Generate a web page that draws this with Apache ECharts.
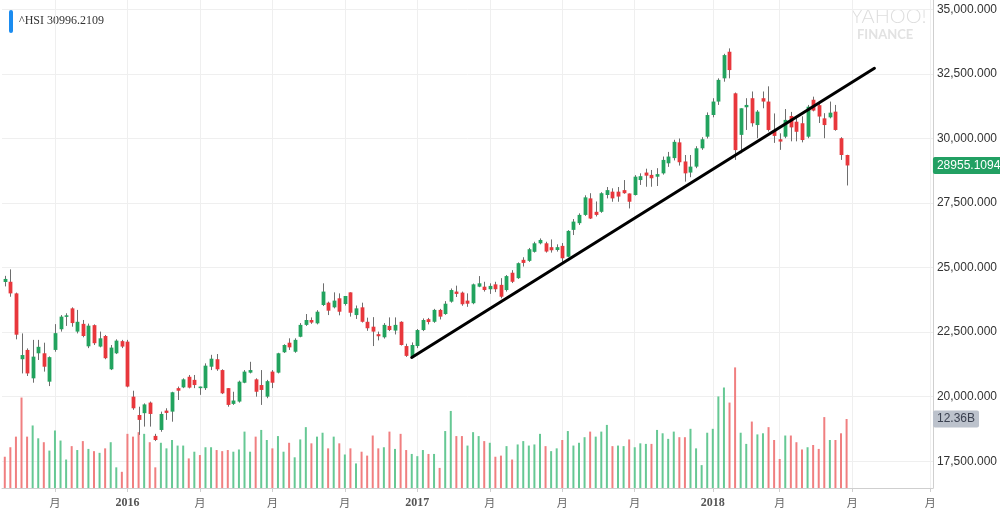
<!DOCTYPE html>
<html>
<head>
<meta charset="utf-8">
<script src="https://cdn.jsdelivr.net/npm/echarts@6/dist/echarts.min.js"></script>
<style>
html,body{margin:0;padding:0;background:#ffffff;}
#chart{width:1000px;height:518px;}
</style>
</head>
<body>
<div id="chart"></div>
<script>
// ---------------- DATA ----------------
const startDate = '2015-08-07';      // first weekly bar
const categoryCount = 167;           // weeks on the axis (incl. empty space at right)
const prevClose = 24636;             // close of the week before the first bar

const opens = [
24440,24450,24000,21450,21810,20710,21680,21680,20580,21810,
22610,23090,23420,22520,22820,21950,22770,21940,22350,21060,
21680,22150,22130,20000,19290,19360,19770,18480,18710,19460,
19420,20330,20360,20770,20650,20330,20330,21160,21450,21030,
20330,19720,19810,20540,20930,20670,20450,20000,20970,20930,
21720,22090,21740,22320,22780,22970,22840,23550,23640,23460,
23810,23590,24040,23160,23460,22900,22710,22420,22300,22740,
22560,22900,21960,21550,21960,22580,23000,22900,23360,23200,
23680,24070,24030,23720,23620,24260,24260,24160,24350,24330,
24130,24800,24590,25300,25260,25610,25940,25940,25790,25680,
25840,25420,26460,26720,27040,27680,27160,27160,27810,27940,
27940,28000,27870,27810,28390,28680,28590,28520,28650,29040,
29240,29850,29110,28680,28910,29620,30070,30910,31430,32330,
33360,31750,30140,31210,31560,30520,31560,31430,30300,29970,
30070,30870,30650,30590,30070,31500,31290,30780,30820,31040,
30010,29360];

const closes = [
24560,24000,22400,21612,20900,21550,21930,21160,21530,22460,
23100,23150,22850,22900,22350,22750,22070,22260,21490,21900,
22170,21940,20390,19550,19100,19700,19330,18320,19330,19370,
20170,20230,20670,20350,20450,20390,21200,21470,21060,20130,
19680,19850,20580,20970,21030,20190,20260,20600,20540,21680,
22000,21910,22200,22780,22970,22870,23290,24070,23330,23720,
23290,23900,23250,23420,22900,22650,22520,22340,22780,22580,
22780,22000,21580,22000,22580,22970,22890,23360,23100,23600,
24130,23980,23580,23600,24350,24390,24130,24290,24160,23870,
24670,24450,25170,25180,25710,25940,26070,25620,25670,25790,
25360,26420,26780,27040,27720,26900,27040,27880,28000,27680,
27750,27880,27550,28520,28540,28560,28460,28620,29170,29300,
29870,29080,28650,28910,29620,29970,30910,31430,32270,33230,
32650,29550,31170,31300,30590,31040,31430,30330,30100,29880,
30720,30430,30260,29940,31230,31080,30850,30520,31000,30330,
29360,28955.1094];

const highs = [
24680,24930,24030,22450,21870,22200,22200,22090,21560,22810,
23160,23230,23460,23360,22970,22830,22800,22520,22390,22000,
22220,22200,22200,20230,19610,19740,19810,18560,19420,19550,
20190,20390,20710,20840,20840,20390,21290,21620,21650,21060,
20330,20190,20620,21030,21350,20710,21030,20650,21030,21700,
22030,22260,22260,22850,23200,23070,23350,24390,23680,24040,
24000,23900,24040,23530,23640,23060,23080,22520,22850,23070,
23070,22920,22050,22100,22620,23030,23050,23400,23400,23700,
24190,24300,24070,24000,24380,24670,24450,24390,24450,24590,
24710,24900,25200,25400,25760,26000,26130,26000,26090,25900,
25950,26450,26880,27100,27800,27880,27560,27920,28120,28070,
28120,28390,27870,28580,28650,28830,28780,28850,29300,29480,
29950,30000,29360,29360,29700,30050,31010,31560,32330,33280,
33490,31780,31170,31560,31820,31100,31820,32020,30970,30200,
31140,31030,30800,30860,31300,31620,31350,30980,31430,31300,
30050,29370];

const lows = [
24270,23870,22220,20900,20800,20540,21420,20970,20410,21740,
22520,22740,22710,22450,22300,21880,22000,21910,21450,21030,
21650,21880,20360,19490,18520,18840,18840,18280,18640,19100,
19030,19870,20330,20320,20330,20070,20260,21030,21000,20100,
19610,19680,19770,20520,20900,20000,19680,19940,20330,20900,
21690,21810,21700,22300,22740,22820,22800,23510,23160,23420,
23150,23530,23100,23010,22870,22550,21960,22180,22250,22540,
22410,21980,21540,21500,21880,22540,22800,22860,22990,23170,
23640,23860,23520,23480,23580,24240,24070,23980,24050,23810,
24070,24400,24560,25040,25220,25580,25900,25580,25580,25620,
25170,25400,26260,26650,27000,26880,26980,27120,27680,27550,
27550,27860,27290,27790,28200,28130,28130,28160,28600,28900,
29150,28950,28330,28500,28850,29560,30000,30820,31300,32200,
32330,29170,29430,30330,30460,30010,31170,30270,29830,29560,
30010,29890,29890,29850,30010,31050,30600,30010,30780,30300,
29170,28180];

// weekly turnover, billions
const volumes = [
5.6,7.3,9.2,16.2,9.2,11.2,8.9,8.2,6.7,10.3,
8.5,5.1,7.5,6.8,8.4,7.0,6.6,6.3,7.1,8.2,
3.7,2.9,9.7,9.2,10.0,9.7,8.2,3.7,8.1,7.1,
8.6,7.6,7.6,5.3,6.5,5.9,7.3,7.3,6.8,6.6,
6.8,6.5,6.9,10.1,6.5,9.2,10.4,8.6,7.1,9.3,
6.5,8.1,5.5,8.7,10.9,8.0,9.2,9.9,7.1,9.2,
8.0,6.0,7.1,4.4,6.5,5.8,9.4,7.1,7.3,10.1,
7.0,9.7,6.8,6.1,5.7,6.8,6.1,6.1,3.6,10.2,
13.8,9.3,9.3,7.6,10.0,9.3,8.4,8.1,5.6,5.8,
7.5,5.1,7.8,8.4,7.6,7.8,9.7,7.5,6.6,7.1,
8.6,10.2,7.6,8.1,9.1,10.1,9.2,10.1,11.3,7.5,
7.6,7.5,8.7,7.3,8.0,7.9,7.9,10.4,9.8,8.8,
10.1,9.1,9.1,10.6,7.1,4.1,9.9,10.6,16.4,18.0,
15.3,21.6,9.9,7.9,11.9,9.6,9.8,10.9,8.6,5.2,
9.4,9.4,8.2,6.9,7.3,7.7,7.0,12.7,8.6,8.6,
9.8,12.36];

const lastPrice = 28955.1094;
const lastPriceText = '28955.1094';
const lastVolume = 12.36;
const lastVolumeText = '12.36B';
const headerText = '^HSI 30996.2109';

// hand-drawn trend line: [week index, price]
const trendStart = [73, 21520];
const trendEnd = [156, 32720];

// x-axis labels: week index and text
const xTickIndex = [9, 22, 35, 48, 61, 74, 87, 100, 113, 127, 139, 152, 166];
const xTickText  = ['月','2016','月','月','月','2017','月','月','月','2018','月','月','月'];

// price axis
const priceMin = 17500, priceMax = 35000, priceStep = 2500;

// ---------------- BUILD ----------------
const UP = '#22a35e', DOWN = '#e8373c';
const VOL_UP = '#66c894', VOL_DOWN = '#f07f80';

const categories = [];
{
  const d0 = new Date(startDate + 'T00:00:00Z');
  for (let i = 0; i < categoryCount; i++) {
    const d = new Date(d0.getTime() + i * 7 * 86400000);
    categories.push(d.toISOString().slice(0, 10));
  }
}
const candleData = opens.map((o, i) => [i, o, closes[i], lows[i], highs[i]]);
const volumeData = volumes.map((v, i) => {
  const pc = i === 0 ? prevClose : closes[i - 1];
  return { value: v, itemStyle: { color: closes[i] >= pc ? VOL_UP : VOL_DOWN } };
});
const tickSet = new Set(xTickIndex);
const tickLabelOf = {};
xTickIndex.forEach((k, j) => { tickLabelOf[k] = xTickText[j]; });

const GRID_LEFT = 2, GRID_W = 931;
const PRICE_TOP = 9.4, PRICE_H = 451.8;
const VOL_TOP = 0, VOL_H = 488;
// volume axis scaled so bars occupy the bottom band
const volMax = 87.4;

function renderCandle(params, api) {
  const i = api.value(0);
  const o = api.value(1), c = api.value(2), l = api.value(3), h = api.value(4);
  const pO = api.coord([i, o]), pC = api.coord([i, c]);
  const pL = api.coord([i, l]), pH = api.coord([i, h]);
  const band = api.size([1, 0])[0];
  const w = Math.max(2, band * 0.68);
  const cx = Math.round(pO[0]) + 0.5;
  const top = Math.min(pO[1], pC[1]);
  const bh = Math.max(1, Math.abs(pO[1] - pC[1]));
  return {
    type: 'group',
    children: [
      { type: 'line', shape: { x1: cx, y1: pH[1], x2: cx, y2: pL[1] },
        style: { stroke: '#6e6e6e', lineWidth: 1 } },
      { type: 'rect', shape: { x: cx - w / 2, y: top, width: w, height: bh },
        style: { fill: c >= o ? UP : DOWN } }
    ]
  };
}

const chart = echarts.init(document.getElementById('chart'), null, { renderer: 'canvas' });
chart.setOption({
  animation: false,
  backgroundColor: '#ffffff',
  grid: [
    { left: GRID_LEFT, width: GRID_W, top: PRICE_TOP, height: PRICE_H, containLabel: false },
    { left: GRID_LEFT, width: GRID_W, top: VOL_TOP, height: VOL_H, containLabel: false }
  ],
  xAxis: [
    { type: 'category', gridIndex: 0, data: categories, boundaryGap: true, show: false },
    {
      type: 'category', gridIndex: 1, data: categories, boundaryGap: true,
      axisLine: { show: true, lineStyle: { color: '#cfcfcf', width: 1 } },
      axisTick: { show: true, alignWithLabel: true, length: 4,
        interval: (idx) => tickSet.has(idx), lineStyle: { color: '#cfcfcf' } },
      splitLine: { show: true, alignWithLabel: true,
        interval: (idx) => tickSet.has(idx), lineStyle: { color: '#efefef', width: 1 } },
      axisLabel: {
        interval: (idx) => tickSet.has(idx),
        margin: 9,
        formatter: (val, idx) => {
          const t = tickLabelOf[idx] || '';
          return /^\d+$/.test(t) ? '{y|' + t + '}' : '{m|' + t + '}';
        },
        rich: {
          y: { fontFamily: 'Liberation Serif', fontWeight: 'bold', fontSize: 12, color: '#555555' },
          m: { fontFamily: 'Noto Sans CJK SC', fontSize: 11, color: '#666666' }
        }
      }
    }
  ],
  yAxis: [
    {
      type: 'value', gridIndex: 0, position: 'right',
      min: priceMin, max: priceMax, interval: priceStep,
      axisLine: { show: false }, axisTick: { show: false },
      splitLine: { show: true, lineStyle: { color: '#efefef', width: 1 } },
      axisLabel: {
        margin: 4, color: '#333333', fontSize: 12, fontFamily: 'Liberation Sans',
        formatter: (v) => v.toLocaleString('en-US', { minimumFractionDigits: 3, maximumFractionDigits: 3 })
      }
    },
    {
      type: 'value', gridIndex: 1, position: 'right', min: 0, max: volMax,
      axisLine: { show: true, lineStyle: { color: '#cfcfcf', width: 1 } },
      axisTick: { show: false }, axisLabel: { show: false }, splitLine: { show: false }
    }
  ],
  series: [
    {
      type: 'bar', name: 'volume', xAxisIndex: 1, yAxisIndex: 1,
      data: volumeData, barWidth: 2, silent: true, z: 2,
      markLine: {
        silent: true, symbol: 'none', animation: false,
        lineStyle: { width: 0, color: 'rgba(0,0,0,0)' },
        data: [{ yAxis: lastVolume }],
        label: {
          show: true, position: 'end', distance: 0, formatter: lastVolumeText,
          color: '#3b4150', fontSize: 12, fontFamily: 'Liberation Sans',
          backgroundColor: '#bcc2cc', padding: [3, 4, 2, 4], borderRadius: 2
        }
      }
    },
    {
      type: 'custom', name: 'HSI', xAxisIndex: 0, yAxisIndex: 0,
      data: candleData, encode: { x: 0, y: [1, 2, 3, 4] },
      renderItem: renderCandle, silent: true, z: 3
    },
    {
      type: 'line', name: 'trend', xAxisIndex: 0, yAxisIndex: 0,
      data: [trendStart, trendEnd], symbol: 'none', silent: true, z: 5,
      lineStyle: { color: '#000000', width: 3, cap: 'round' },
      markLine: {
        silent: true, symbol: 'none', animation: false,
        lineStyle: { width: 0, color: 'rgba(0,0,0,0)' },
        data: [{ yAxis: lastPrice }],
        label: {
          show: true, position: 'end', distance: 0, formatter: lastPriceText,
          color: '#ffffff', fontSize: 12, fontFamily: 'Liberation Sans',
          backgroundColor: '#22a063', padding: [3, 4, 2, 4], borderRadius: 2
        }
      }
    }
  ],
  graphic: [
    { type: 'rect', left: 9, top: 10, shape: { width: 4, height: 23, r: 2 }, style: { fill: '#1b8cf0' }, silent: true },
    { type: 'text', left: 19, top: 15, style: { text: headerText, font: '12px "Liberation Serif"', fill: '#333333' }, silent: true },
    { type: 'text', left: 851, top: 7, style: { text: 'YAHOO!', font: '300 20px Lato', fill: '#dedede' }, silent: true },
    { type: 'text', left: 857, top: 28, style: { text: 'FINANCE', font: 'bold 13px Lato', fill: '#e2e2e2' }, silent: true }
  ]
});
</script>
</body>
</html>
